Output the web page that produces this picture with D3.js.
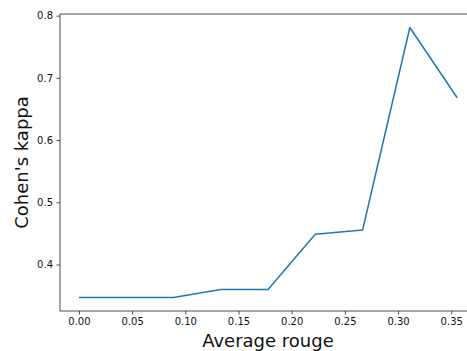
<!DOCTYPE html>
<html>
<head>
<meta charset="utf-8">
<script src="https://cdn.jsdelivr.net/npm/d3@7"></script>
<style>
    body { margin: 0; background: #fff; }
    svg { display: block; font-family: "DejaVu Sans", sans-serif; }
</style>
</head>
<body>
<svg id="chart" width="467" height="351"></svg>
<script>
// data
const rouge = [0, 0.0444, 0.0889, 0.1333, 0.1778, 0.2222, 0.2667, 0.3111, 0.3556];
const kappa = [0.347, 0.347, 0.347, 0.3597, 0.3597, 0.4485, 0.4554, 0.781, 0.668];
const xTicks = [0, 0.05, 0.1, 0.15, 0.2, 0.25, 0.3, 0.35];
const yTicks = [0.4, 0.5, 0.6, 0.7, 0.8];

const svg = d3.select('#chart');

// axes box (right side runs off the picture, as in the reference)
const margin = { left: 60, top: 14, bottom: 311 };
const x = d3.scaleLinear().domain([-0.0178, 0.3733]).range([margin.left, 476]);
const y = d3.scaleLinear().domain([0.3252, 0.8027]).range([margin.bottom, margin.top]);

const xAxis = d3.axisBottom(x)
    .tickValues(xTicks)
    .tickSize(3.5)
    .tickPadding(3.5)
    .tickFormat(d3.format('.2f'));

const yAxis = d3.axisLeft(y)
    .tickValues(yTicks)
    .tickSize(3.5)
    .tickPadding(3.5)
    .tickFormat(d3.format('.1f'));

const styleAxis = (g) => {
    g.select('.domain').remove();
    g.selectAll('line').attr('stroke', '#222').attr('stroke-width', 0.8);
    g.selectAll('text')
        .attr('fill', '#111')
        .style('font-family', '"DejaVu Sans", sans-serif')
        .style('font-size', '10px');
};

svg.append('g')
    .attr('transform', `translate(0,${margin.bottom})`)
    .call(xAxis)
    .call(styleAxis);

svg.append('g')
    .attr('transform', `translate(${margin.left},0)`)
    .call(yAxis)
    .call(styleAxis);

// spines
const spines = svg.append('g')
    .attr('stroke', '#222')
    .attr('stroke-width', 0.8)
    .attr('fill', 'none');
spines.append('line')
    .attr('x1', margin.left).attr('x2', 476)
    .attr('y1', margin.top).attr('y2', margin.top);
spines.append('line')
    .attr('x1', margin.left).attr('x2', 476)
    .attr('y1', margin.bottom).attr('y2', margin.bottom);
spines.append('line')
    .attr('x1', margin.left).attr('x2', margin.left)
    .attr('y1', margin.top).attr('y2', margin.bottom);

// the line
const line = d3.line()
    .x((d, i) => x(rouge[i]))
    .y((d) => y(d));

svg.append('path')
    .datum(kappa)
    .attr('d', line)
    .attr('fill', 'none')
    .attr('stroke', '#1f77b4')
    .attr('stroke-width', 1.5)
    .attr('stroke-linejoin', 'round');

// labels
svg.append('text')
    .attr('x', 268)
    .attr('y', 347)
    .attr('text-anchor', 'middle')
    .style('font-size', '18px')
    .attr('fill', '#111')
    .text('Average rouge');

svg.append('text')
    .attr('transform', `translate(28,${(margin.top + margin.bottom) / 2}) rotate(-90)`)
    .attr('text-anchor', 'middle')
    .style('font-size', '18px')
    .attr('fill', '#111')
    .text("Cohen's kappa");
</script>
</body>
</html>
